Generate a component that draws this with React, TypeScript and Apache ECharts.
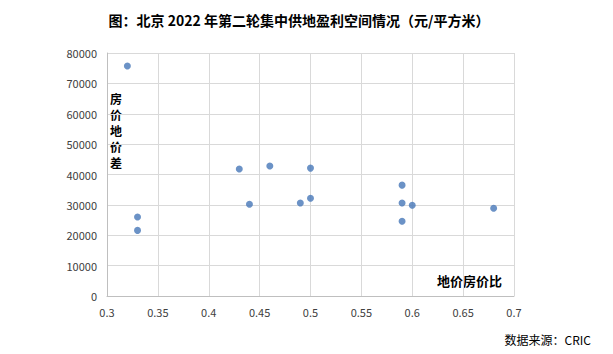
import React, { useEffect, useRef } from "react";
import * as echarts from "echarts";

const ratio = [0.32, 0.33, 0.33, 0.43, 0.44, 0.46, 0.49, 0.5, 0.5, 0.59, 0.59, 0.59, 0.6, 0.68];
const diff = [75700, 26000, 21600, 41800, 30200, 42800, 30600, 42100, 32200, 36500, 30600, 24600, 29900, 28900];

const titleText = "图：北京 2022 年第二轮集中供地盈利空间情况（元/平方米）";
const yNameChars = ["房", "价", "地", "价", "差"];
const xName = "地价房价比";
const sourceText = "数据来源：CRIC";

export default function App() {
  const ref = useRef<HTMLDivElement>(null);
  useEffect(() => {
    const chart = echarts.init(ref.current!, null, { renderer: "svg" });
    const font = "'Noto Sans CJK SC', 'Noto Sans', sans-serif";
    chart.setOption({
      animation: false,
      backgroundColor: "#ffffff",
      textStyle: { fontFamily: font },
      title: {
        text: titleText,
        left: 294,
        top: 8,
        textAlign: "center",
        textStyle: { fontSize: 14, fontWeight: "bold", color: "#000", fontFamily: font },
      },
      grid: { left: 107, top: 53, right: 99, bottom: 58 },
      xAxis: {
        type: "value",
        min: 0.3,
        max: 0.7,
        interval: 0.05,
        axisLine: { show: true, lineStyle: { color: "#bfbfbf" } },
        axisTick: { show: false },
        splitLine: { show: true, lineStyle: { color: "#d9d9d9" } },
        axisLabel: { color: "#404040", fontSize: 11, margin: 10, formatter: (v: number) => String(+v.toFixed(2)) },
      },
      yAxis: {
        type: "value",
        min: 0,
        max: 80000,
        interval: 10000,
        axisLine: { show: true, lineStyle: { color: "#bfbfbf" } },
        axisTick: { show: false },
        splitLine: { show: true, lineStyle: { color: "#d9d9d9" } },
        axisLabel: { color: "#404040", fontSize: 11, margin: 10, formatter: (v: number) => String(v) },
      },
      graphic: [
        ...yNameChars.map((c, i) => ({
          type: "text",
          left: 110,
          top: 92 + i * 16,
          style: { text: c, font: `bold 12px ${font}`, fill: "#000" },
        })),
        {
          type: "text",
          left: 437,
          top: 274,
          style: { text: xName, font: `bold 13px ${font}`, fill: "#000" },
        },
        {
          type: "text",
          right: 22,
          top: 333,
          style: { text: sourceText, font: `12px ${font}`, fill: "#000" },
        },
      ],
      series: [
        {
          type: "scatter",
          symbol: "circle",
          symbolSize: 7,
          itemStyle: { color: "#4677B8" },
          data: ratio.map((r, i) => [r, diff[i]]),
        },
      ],
    });
    return () => chart.dispose();
  }, []);
  return <div ref={ref} style={{ width: 613, height: 354, margin: -8 }} />;
}
